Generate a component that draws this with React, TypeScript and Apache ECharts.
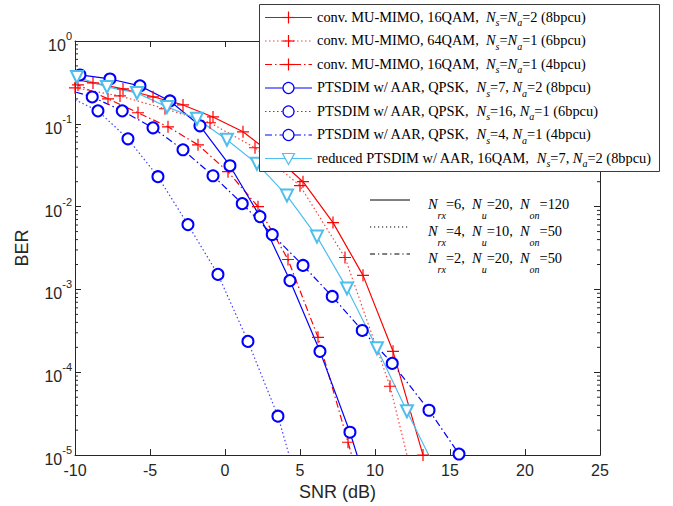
import React, { useEffect, useRef } from "react";
import * as echarts from "echarts";

// ---------- data ----------
const SNR_CONV_16QAM_8 = [-10.8, -8.8, -6.8, -4.8, -2.8, -0.8, 1.2, 3.2, 5.2, 7.2, 9.2, 11.2, 13.2];
const BER_CONV_16QAM_8 = [0.368, 0.312, 0.264, 0.212, 0.169, 0.121, 0.0801, 0.0423, 0.02, 0.00642, 0.00148, 1.79e-4, 1.0e-5];

const SNR_CONV_64QAM_6 = [-10, -7, -4, -1, 2, 5, 8, 11, 14];
const BER_CONV_64QAM_6 = [0.272, 0.217, 0.152, 0.103, 0.0514, 0.0179, 0.00243, 6.78e-5, 4.3e-7];

const SNR_CONV_16QAM_4 = [-11.8, -9.8, -7.8, -5.8, -3.8, -1.8, 0.2, 2.2, 4.2, 6.2, 8.2, 10.2];
const BER_CONV_16QAM_4 = [0.435, 0.295, 0.2, 0.136, 0.092, 0.0558, 0.0264, 0.01, 0.0023, 2.64e-4, 1.43e-5, 7.9e-7];

const SNR_PTS_8 = [-11.67, -9.67, -7.67, -5.67, -3.67, -1.67, 0.33, 2.33, 4.33, 6.33, 8.33, 10.33];
const BER_PTS_8 = [0.42, 0.389, 0.348, 0.287, 0.189, 0.0946, 0.0312, 0.00758, 0.00128, 1.79e-4, 1.89e-5, 1.3e-6];

const SNR_PTS_6 = [-10.47, -8.47, -6.47, -4.47, -2.47, -0.47, 1.53, 3.53, 5.53];
const BER_PTS_6 = [0.215, 0.1435, 0.0659, 0.023, 0.00607, 0.00152, 2.36e-4, 2.95e-5, 1.6e-6];

const SNR_PTS_4 = [-10.85, -8.85, -6.85, -4.8, -2.8, -0.8, 1.15, 3.15, 5.2, 7.15, 9.15, 11.15, 13.6, 15.6];
const BER_PTS_4 = [0.27, 0.211, 0.1435, 0.0895, 0.0486, 0.0236, 0.01087, 0.0046, 0.00195, 8.24e-4, 3.2e-4, 1.28e-4, 3.48e-5, 1.03e-5];

const SNR_RED_8 = [-9.87, -7.87, -5.87, -3.87, -1.87, 0.13, 2.13, 4.13, 6.13, 8.13, 10.13, 12.13, 14.13];
const BER_RED_8 = [0.368, 0.279, 0.236, 0.16, 0.115, 0.0641, 0.033, 0.0136, 0.00435, 0.00103, 1.95e-4, 3.39e-5, 6.3e-6];

const X_MIN = -10;
const X_MAX = 25;
const X_INTERVAL = 5;
const Y_MIN = 1e-5;
const Y_MAX = 1;
const MINOR_MANTISSAS = [2, 3, 4, 5, 6, 7, 8, 9];
const MINOR_DECADES = [-5, -4, -3, -2, -1];

const LEGEND_LABELS = [
  "{r|conv. MU-MIMO, 16QAM,  }{i|N}{sub|s}{r|=}{i|N}{sub|a}{r|=2 (8bpcu)}",
  "{r|conv. MU-MIMO, 64QAM,  }{i|N}{sub|s}{r|=}{i|N}{sub|a}{r|=1 (6bpcu)}",
  "{r|conv. MU-MIMO, 16QAM,  }{i|N}{sub|s}{r|=}{i|N}{sub|a}{r|=1 (4bpcu)}",
  "{r|PTSDIM w/ AAR, QPSK,  }{i|N}{sub|s}{r|=7, }{i|N}{sub|a}{r|=2 (8bpcu)}",
  "{r|PTSDIM w/ AAR, QPSK,  }{i|N}{sub|s}{r|=16, }{i|N}{sub|a}{r|=1 (6bpcu)}",
  "{r|PTSDIM w/ AAR, QPSK,  }{i|N}{sub|s}{r|=4, }{i|N}{sub|a}{r|=1 (4bpcu)}",
  "{r|reduced PTSDIM w/ AAR, 16QAM,  }{i|N}{sub|s}{r|=7, }{i|N}{sub|a}{r|=2 (8bpcu)}",
];

const NOTE_LABELS = [
  "{i|N}{sub|rx}{r|=6,  }{i|N}{sub|u}{r|=20,  }{i|N}{sub|on}{r|=120}",
  "{i|N}{sub|rx}{r|=4,  }{i|N}{sub|u}{r|=10,  }{i|N}{sub|on}{r|=50}",
  "{i|N}{sub|rx}{r|=2,  }{i|N}{sub|u}{r|=20,  }{i|N}{sub|on}{r|=50}",
];

// ---------- styles ----------
const RED = "#FF0000";
const BLUE = "#0000FF";
const CYAN = "#4DBEEE";
const AXIS = "#262626";
const DOTTED = [1.5, 2.5];
const DASHDOT = [7, 3, 1.5, 3];
const PLUS = "path://M9,0h2v9h9v2h-9v9h-2v-9h-9v-2h9z";

type Spec = { x: number[]; y: number[]; color: string; dash: any; marker: string };
const SPECS: Spec[] = [
  { x: SNR_CONV_16QAM_8, y: BER_CONV_16QAM_8, color: RED, dash: "solid", marker: "plus" },
  { x: SNR_CONV_64QAM_6, y: BER_CONV_64QAM_6, color: RED, dash: DOTTED, marker: "plus" },
  { x: SNR_CONV_16QAM_4, y: BER_CONV_16QAM_4, color: RED, dash: DASHDOT, marker: "plus" },
  { x: SNR_PTS_8, y: BER_PTS_8, color: BLUE, dash: "solid", marker: "circle" },
  { x: SNR_PTS_6, y: BER_PTS_6, color: BLUE, dash: DOTTED, marker: "circle" },
  { x: SNR_PTS_4, y: BER_PTS_4, color: BLUE, dash: DASHDOT, marker: "circle" },
  { x: SNR_RED_8, y: BER_RED_8, color: CYAN, dash: "solid", marker: "tri" },
];

const SERIF = "'Liberation Serif', 'Times New Roman', serif";
const SANS = "'Liberation Sans', Arial, sans-serif";
const LEG_FS = 14.4;

function richStyles(subPad: number) {
  return {
    r: { fontFamily: SERIF, fontSize: LEG_FS, fill: "#000", color: "#000" },
    i: { fontFamily: SERIF, fontSize: LEG_FS, fontStyle: "italic", fill: "#000", color: "#000" },
    sub: {
      fontFamily: SERIF,
      fontSize: 10,
      fontStyle: "italic",
      lineHeight: 10,
      padding: [subPad, 0, 0, 0],
      fill: "#000",
      color: "#000",
    },
  };
}

const TOP_Z = 100;

function markerGraphic(kind: string, cx: number, cy: number, color: string) {
  if (kind === "plus") {
    return [
      { type: "line", z: TOP_Z + 2, shape: { x1: cx - 6, y1: cy, x2: cx + 6, y2: cy }, style: { stroke: color, lineWidth: 1.2 } },
      { type: "line", z: TOP_Z + 2, shape: { x1: cx, y1: cy - 6, x2: cx, y2: cy + 6 }, style: { stroke: color, lineWidth: 1.2 } },
    ];
  }
  if (kind === "circle") {
    return [{ type: "circle", z: TOP_Z + 2, shape: { cx, cy, r: 5.5 }, style: { fill: "#fff", stroke: color, lineWidth: 1.2 } }];
  }
  return [
    {
      type: "polygon",
      z: TOP_Z + 2,
      shape: { points: [[cx - 6, cy - 5], [cx + 6, cy - 5], [cx, cy + 6]] },
      style: { fill: "#fff", stroke: color, lineWidth: 1.2 },
    },
  ];
}

export default function App() {
  const ref = useRef<HTMLDivElement>(null);

  useEffect(() => {
    if (!ref.current) return;
    const chart = echarts.init(ref.current, undefined, { renderer: "svg" });

    const minorVals: number[][] = [];
    MINOR_DECADES.forEach((d) => MINOR_MANTISSAS.forEach((m) => minorVals.push([X_MIN, m * Math.pow(10, d)])));

    const series: any[] = SPECS.map((s) => ({
      type: "line",
      xAxisIndex: 0,
      yAxisIndex: 0,
      data: s.x.map((v, i) => [v, s.y[i]]),
      clip: true,
      color: s.color,
      lineStyle: { color: s.color, width: 1.2, type: s.dash, opacity: s.dash === DOTTED ? 0.75 : 1 },
      symbol: s.marker === "plus" ? PLUS : s.marker === "circle" ? "emptyCircle" : "emptyTriangle",
      symbolRotate: s.marker === "tri" ? 180 : 0,
      symbolSize: s.marker === "plus" ? 12 : s.marker === "circle" ? 11 : 12,
      showAllSymbol: true,
      itemStyle:
        s.marker === "plus"
          ? { color: s.color, borderWidth: 0 }
          : { color: s.color, borderColor: s.color, borderWidth: 1.2 },
      emphasis: { disabled: true },
      z: 2,
    }));

    series.push({
      type: "custom",
      coordinateSystem: "cartesian2d",
      xAxisIndex: 0,
      yAxisIndex: 0,
      silent: true,
      clip: false,
      data: minorVals,
      renderItem: (params: any, api: any) => {
        const v = api.value(1);
        const l = api.coord([X_MIN, v]);
        const r = api.coord([X_MAX, v]);
        return {
          type: "group",
          children: [
            { type: "line", shape: { x1: l[0], y1: l[1], x2: l[0] + 3, y2: l[1] }, style: { stroke: AXIS, lineWidth: 1 } },
            { type: "line", shape: { x1: r[0] - 3, y1: r[1], x2: r[0], y2: r[1] }, style: { stroke: AXIS, lineWidth: 1 } },
          ],
        };
      },
    });

    const graphics: any[] = [
      {
        type: "rect",
        z: TOP_Z,
        shape: { x: 259.5, y: 4.5, width: 400, height: 167 },
        style: { fill: "#fff", stroke: "#3a3a3a", lineWidth: 1 },
      },
    ];
    LEGEND_LABELS.forEach((label, i) => {
      const y = 17.5 + i * 23.5;
      const s = SPECS[i];
      graphics.push({
        type: "line",
        z: TOP_Z + 1,
        shape: { x1: 265, y1: y, x2: 312, y2: y },
        style: {
          stroke: s.color,
          lineWidth: 1.2,
          opacity: s.dash === DOTTED ? 0.75 : 1,
          lineDash: s.dash === "solid" ? null : s.dash,
        },
      });
      graphics.push(...markerGraphic(s.marker, 288.5, y, s.color));
      graphics.push({
        type: "text",
        z: TOP_Z + 1,
        x: 317,
        y: y - 1,
        style: {
          text: label,
          rich: richStyles(12),
          verticalAlign: "middle",
          align: "left",
          fontFamily: SERIF,
          fontSize: LEG_FS,
        },
      });
    });

    const noteDashes: any[] = [null, [1.2, 2.8], [5, 3, 1.2, 3]];
    NOTE_LABELS.forEach((label, i) => {
      const y = 200 + i * 27;
      graphics.push({
        type: "line",
        z: TOP_Z,
        shape: { x1: 370, y1: y, x2: 410, y2: y },
        style: { stroke: "#000", lineWidth: 1, lineDash: noteDashes[i] },
      });
      graphics.push({
        type: "text",
        z: TOP_Z,
        x: 428,
        y: y + 4,
        style: {
          text: label,
          rich: richStyles(22),
          verticalAlign: "middle",
          align: "left",
          fontFamily: SERIF,
          fontSize: LEG_FS,
        },
      });
    });

    const option: any = {
      animation: false,
      backgroundColor: "#fff",
      grid: { left: 75, top: 41, right: 73, bottom: 50, containLabel: false },
      xAxis: [
        {
          type: "value",
          min: X_MIN,
          max: X_MAX,
          interval: X_INTERVAL,
          position: "bottom",
          name: "SNR (dB)",
          nameLocation: "middle",
          nameGap: 26,
          nameTextStyle: { fontFamily: SANS, fontSize: 18, color: AXIS },
          axisLine: { show: true, lineStyle: { color: AXIS, width: 1 } },
          axisTick: { show: true, inside: true, length: 6, lineStyle: { color: AXIS } },
          axisLabel: { fontFamily: SANS, fontSize: 16, color: AXIS, margin: 7 },
          splitLine: { show: false },
        },
        {
          type: "value",
          min: X_MIN,
          max: X_MAX,
          interval: X_INTERVAL,
          position: "top",
          axisLine: { show: true, onZero: false, lineStyle: { color: AXIS, width: 1 } },
          axisTick: { show: true, inside: true, length: 6, lineStyle: { color: AXIS } },
          axisLabel: { show: false },
          splitLine: { show: false },
        },
      ],
      yAxis: [
        {
          type: "log",
          logBase: 10,
          min: Y_MIN,
          max: Y_MAX,
          position: "left",
          name: "BER",
          nameLocation: "middle",
          nameGap: 44,
          nameRotate: 90,
          nameTextStyle: { fontFamily: SANS, fontSize: 18, color: AXIS },
          axisLine: { show: true, onZero: false, lineStyle: { color: AXIS, width: 1 } },
          axisTick: { show: true, inside: true, length: 6, lineStyle: { color: AXIS } },
          axisLabel: {
            margin: 3,
            formatter: (v: number) => `{b|10}{s|${Math.round(Math.log10(v))}}`,
            rich: {
              b: { fontFamily: SANS, fontSize: 16, color: AXIS, padding: [9, 0, 0, 0] },
              s: { fontFamily: SANS, fontSize: 11, color: AXIS, padding: [0, 0, 10, 0] },
            },
          },
          splitLine: { show: false },
        },
        {
          type: "log",
          logBase: 10,
          min: Y_MIN,
          max: Y_MAX,
          position: "right",
          axisLine: { show: true, onZero: false, lineStyle: { color: AXIS, width: 1 } },
          axisTick: { show: true, inside: true, length: 6, lineStyle: { color: AXIS } },
          axisLabel: { show: false },
          splitLine: { show: false },
        },
      ],
      series,
      graphic: graphics,
    };

    chart.setOption(option);
    return () => chart.dispose();
  }, []);

  return <div ref={ref} style={{ width: 673, height: 506, position: "absolute", left: 0, top: 0 }} />;
}
